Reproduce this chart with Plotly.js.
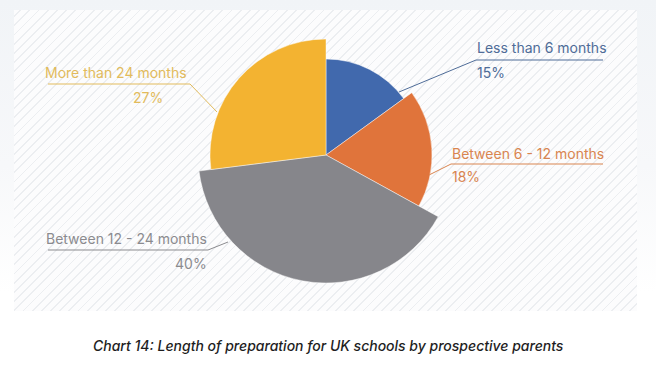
<!DOCTYPE html>
<html>
<head>
<meta charset="utf-8">
<script src="https://cdn.plot.ly/plotly-3.0.1.min.js"></script>
<style>
  html, body { margin: 0; padding: 0; }
  body { width: 656px; height: 367px; position: relative; overflow: hidden;
         background: linear-gradient(180deg, #f1f4f7 0%, #f7f8fa 45%, #ffffff 80%); }
  #hatch { position: absolute; left: 14px; top: 10px; width: 623px; height: 301px;
           background-color: #fcfcfd;
           background-image: repeating-linear-gradient(135deg, #fcfcfd 0px, #fcfcfd 4px, #eceef1 4px, #eceef1 5.3px, #fcfcfd 5.3px, #fcfcfd 6.5px); }
  #chart { position: absolute; left: 0; top: 0; width: 656px; height: 367px; }
</style>
</head>
<body>
<div id="hatch"></div>
<div id="chart"></div>
<script>
// ---- data ----
const categories = ["Less than 6 months", "Between 6 - 12 months", "Between 12 - 24 months", "More than 24 months"];
const percents = [15, 18, 40, 27];
const pctLabels = ["15%", "18%", "40%", "27%"];
// ---- styling (per-slice radius and colours) ----
const sliceRadius = [96, 106, 128, 116];
const sliceColors = ["#4169ad", "#e0743b", "#86868b", "#f3b331"];
const labelColors = ["#4f6c98", "#d98550", "#8b8b8f", "#e2bb5c"];

const W = 656, H = 367;
const px = x => x / W;
const py = y => 1 - y / H;

// angular geometry derived from the percentages
const widths = percents.map(p => p * 3.6);
const thetas = [];
let acc = 0;
widths.forEach(w => { thetas.push(acc + w / 2); acc += w; });

const trace = {
  type: 'barpolar',
  r: sliceRadius,
  theta: thetas,
  width: widths,
  text: categories,
  marker: { color: sliceColors, line: { color: 'rgba(255,255,255,0.55)', width: 0.8 } },
  hoverinfo: 'text'
};

// polar: centre (326,155) px, 130 px for radius 130
const cx = 326, cy = 155, R = 130;

const font = { family: 'Inter, "Open Sans", sans-serif', size: 14 };
function f(c) { return Object.assign({}, font, { color: c }); }

const labelPos = [
  { tx: 476, ty: 48, ta: 'left', u0: 476, u1: 603, uy: 60, ptx: 476, pty: 72, pa: 'left', lx: 399, ly: 92, lsx: 476 },
  { tx: 451, ty: 153, ta: 'left', u0: 451, u1: 603, uy: 164, ptx: 451, pty: 176, pa: 'left', lx: 429, ly: 175, lsx: 451 },
  { tx: 208, ty: 238, ta: 'right', u0: 48, u1: 208, uy: 250, ptx: 208, pty: 263, pa: 'right', lx: 228, ly: 242, lsx: 208 },
  { tx: 188, ty: 73, ta: 'right', u0: 48, u1: 190, uy: 84, ptx: 164, pty: 97, pa: 'right', lx: 217, ly: 112, lsx: 190 }
];

const annotations = [];
const shapes = [];
categories.forEach((c, i) => {
  const p = labelPos[i];
  annotations.push({ xref: 'paper', yref: 'paper', x: px(p.tx), y: py(p.ty), xanchor: p.ta, yanchor: 'middle',
    text: c, showarrow: false, font: f(labelColors[i]), borderpad: 0 });
  annotations.push({ xref: 'paper', yref: 'paper', x: px(p.ptx), y: py(p.pty), xanchor: p.pa, yanchor: 'middle',
    text: pctLabels[i], showarrow: false, font: f(labelColors[i]), borderpad: 0 });
  shapes.push({ type: 'line', xref: 'paper', yref: 'paper', x0: px(p.u0), x1: px(p.u1), y0: py(p.uy), y1: py(p.uy),
    line: { color: labelColors[i], width: 1 } });
  shapes.push({ type: 'line', xref: 'paper', yref: 'paper', x0: px(p.lsx), x1: px(p.lx), y0: py(p.uy), y1: py(p.ly),
    line: { color: labelColors[i], width: 1 } });
});

annotations.push({ xref: 'paper', yref: 'paper', x: px(329), y: py(345), xanchor: 'center', yanchor: 'middle',
  text: 'Chart 14: Length of preparation for UK schools by prospective parents', showarrow: false,
  font: { family: 'Inter, "Open Sans", sans-serif', size: 14, color: '#1e1e1e', style: 'italic', weight: 500 } });

const layout = {
  width: W, height: H,
  margin: { l: 0, r: 0, t: 0, b: 0 },
  paper_bgcolor: 'rgba(0,0,0,0)',
  plot_bgcolor: 'rgba(0,0,0,0)',
  showlegend: false,
  polar: {
    domain: { x: [px(cx - R), px(cx + R)], y: [py(cy + R), py(cy - R)] },
    bgcolor: 'rgba(0,0,0,0)',
    bargap: 0,
    radialaxis: { range: [0, R], visible: false },
    angularaxis: { direction: 'clockwise', rotation: 90, visible: false, showgrid: false, showline: false, ticks: '' }
  },
  annotations: annotations,
  shapes: shapes
};

Plotly.newPlot('chart', [trace], layout, { displayModeBar: false, staticPlot: true });
</script>
</body>
</html>
